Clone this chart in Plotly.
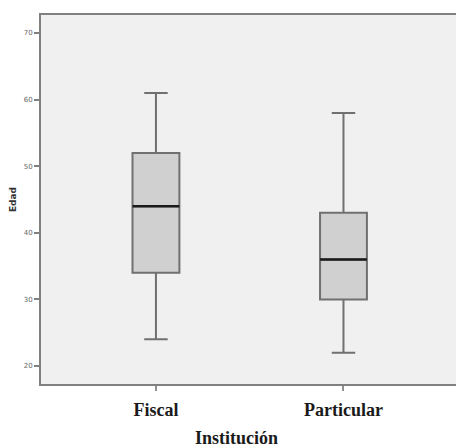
import plotly.graph_objects as go

categories = ["Fiscal", "Particular"]
lower_whisker = [24, 22]
q1_values = [34, 30]
medians = [44, 36]
q3_values = [52, 43]
upper_whisker = [61, 58]
y_ticks = [20, 30, 40, 50, 60, 70]

box_w = 0.25
fig = go.Figure()
for i, c in enumerate(categories):
    fig.add_trace(go.Box(
        x=[i], q1=[q1_values[i]], median=[medians[i]], q3=[q3_values[i]],
        lowerfence=[lower_whisker[i]], upperfence=[upper_whisker[i]],
        width=box_w, whiskerwidth=0.5, fillcolor="#d0d0d0",
        line=dict(color="#707070", width=2), name=c, showlegend=False,
        hoverinfo="skip"))
    fig.add_trace(go.Scatter(
        x=[i - box_w / 2, i + box_w / 2], y=[medians[i], medians[i]],
        mode="lines", line=dict(color="#1a1a1a", width=2.5),
        showlegend=False, hoverinfo="skip"))

serif = dict(family="Liberation Serif", size=18, color="#1a1a1a", weight="bold")

fig.update_layout(
    width=456, height=447,
    margin=dict(l=41, r=0, t=15, b=63, autoexpand=False),
    paper_bgcolor="white", plot_bgcolor="#f0f0f0",
    xaxis=dict(
        range=[-0.613, 1.6], tickvals=[0, 1], ticktext=categories,
        ticks="outside", ticklen=5, tickcolor="#909090", tickwidth=1.5,
        ticklabelstandoff=3,
        showgrid=False, zeroline=False,
        showline=True, linecolor="#808080", linewidth=2, mirror=True,
        tickfont=serif,
    ),
    yaxis=dict(
        range=[17.3, 72.7], tickvals=y_ticks,
        ticks="outside", ticklen=5, tickcolor="#808080", tickwidth=1.5,
        showgrid=False, zeroline=False,
        showline=True, linecolor="#808080", linewidth=2, mirror=True,
        tickfont=dict(family="DejaVu Sans", size=7, color="#666666"),
        title=dict(text="Edad", standoff=6,
                   font=dict(family="DejaVu Sans", size=9, color="#333333", weight="bold")),
    ),
    annotations=[dict(text="Institución", xref="paper", yref="paper",
                      x=0.47, y=-0.146, xanchor="center", yanchor="middle",
                      showarrow=False, font=serif)],
)
fig.write_html("out.html", config={"displayModeBar": False},
               post_script="document.body.style.margin='0';document.body.style.overflow='hidden';")
